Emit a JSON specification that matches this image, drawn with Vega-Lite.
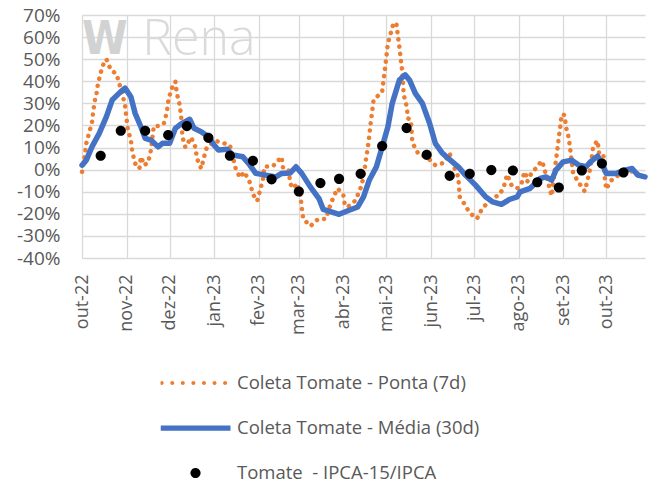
{
  "$schema": "https://vega.github.io/schema/vega-lite/v6.json",
  "width": 563,
  "height": 243,
  "autosize": "none",
  "padding": {"left": 82, "top": 15, "right": 7, "bottom": 229},
  "background": "white",
  "config": {"view": {"stroke": null}, "font": "Open Sans"},
  "data": {"values": [
    {"series":"p","date":"2022-10-01","value":-1},{"series":"p","date":"2022-10-03","value":6.6},{"series":"p","date":"2022-10-04","value":11.9},{"series":"p","date":"2022-10-06","value":16.7},{"series":"p","date":"2022-10-08","value":21.7},{"series":"p","date":"2022-10-09","value":27.3},{"series":"p","date":"2022-10-10","value":31.5},{"series":"p","date":"2022-10-11","value":33.8},{"series":"p","date":"2022-10-12","value":38.4},{"series":"p","date":"2022-10-14","value":43.9},{"series":"p","date":"2022-10-16","value":47.9},{"series":"p","date":"2022-10-18","value":50},{"series":"p","date":"2022-10-21","value":45.2},{"series":"p","date":"2022-10-25","value":43.3},{"series":"p","date":"2022-10-27","value":38.8},{"series":"p","date":"2022-10-29","value":34.6},{"series":"p","date":"2022-10-31","value":28.8},{"series":"p","date":"2022-11-01","value":23.2},{"series":"p","date":"2022-11-02","value":17.9},{"series":"p","date":"2022-11-04","value":13.4},{"series":"p","date":"2022-11-05","value":8.1},{"series":"p","date":"2022-11-07","value":2.8},{"series":"p","date":"2022-11-10","value":0.5},{"series":"p","date":"2022-11-11","value":5.8},{"series":"p","date":"2022-11-12","value":4.3},{"series":"p","date":"2022-11-13","value":2},{"series":"p","date":"2022-11-16","value":3.1},{"series":"p","date":"2022-11-18","value":8.9},{"series":"p","date":"2022-11-20","value":19.7},{"series":"p","date":"2022-11-24","value":19.7},{"series":"p","date":"2022-11-27","value":21},{"series":"p","date":"2022-11-29","value":25.8},{"series":"p","date":"2022-11-30","value":30.8},{"series":"p","date":"2022-12-02","value":36.1},{"series":"p","date":"2022-12-05","value":39.9},{"series":"p","date":"2022-12-06","value":34.6},{"series":"p","date":"2022-12-08","value":29.3},{"series":"p","date":"2022-12-09","value":24.3},{"series":"p","date":"2022-12-10","value":14.6},{"series":"p","date":"2022-12-12","value":10.1},{"series":"p","date":"2022-12-16","value":14.6},{"series":"p","date":"2022-12-19","value":10.1},{"series":"p","date":"2022-12-20","value":5.1},{"series":"p","date":"2022-12-23","value":0.5},{"series":"p","date":"2022-12-25","value":5.8},{"series":"p","date":"2022-12-27","value":10.3},{"series":"p","date":"2023-01-02","value":13.1},{"series":"p","date":"2023-01-12","value":11.1},{"series":"p","date":"2023-01-16","value":0.5},{"series":"p","date":"2023-01-19","value":-3.6},{"series":"p","date":"2023-01-22","value":-1},{"series":"p","date":"2023-01-26","value":-6},{"series":"p","date":"2023-01-28","value":-11.1},{"series":"p","date":"2023-01-31","value":-14.2},{"series":"p","date":"2023-02-02","value":-9.3},{"series":"p","date":"2023-02-04","value":-4.4},{"series":"p","date":"2023-02-05","value":1.3},{"series":"p","date":"2023-02-11","value":1.6},{"series":"p","date":"2023-02-17","value":5.8},{"series":"p","date":"2023-02-18","value":0.5},{"series":"p","date":"2023-02-22","value":-0.5},{"series":"p","date":"2023-02-23","value":-6.3},{"series":"p","date":"2023-02-25","value":-8.5},{"series":"p","date":"2023-02-28","value":-6.3},{"series":"p","date":"2023-03-02","value":-11.1},{"series":"p","date":"2023-03-03","value":-17.2},{"series":"p","date":"2023-03-04","value":-22.2},{"series":"p","date":"2023-03-09","value":-25.6},{"series":"p","date":"2023-03-14","value":-22.6},{"series":"p","date":"2023-03-20","value":-22.2},{"series":"p","date":"2023-03-22","value":-17.6},{"series":"p","date":"2023-03-25","value":-12.6},{"series":"p","date":"2023-03-28","value":-8.5},{"series":"p","date":"2023-04-01","value":-11.6},{"series":"p","date":"2023-04-02","value":-16.1},{"series":"p","date":"2023-04-04","value":-16.9},{"series":"p","date":"2023-04-09","value":-14.2},{"series":"p","date":"2023-04-12","value":-10.1},{"series":"p","date":"2023-04-14","value":-6.3},{"series":"p","date":"2023-04-15","value":-2.5},{"series":"p","date":"2023-04-16","value":1.3},{"series":"p","date":"2023-04-17","value":5.8},{"series":"p","date":"2023-04-18","value":10.1},{"series":"p","date":"2023-04-19","value":15.2},{"series":"p","date":"2023-04-20","value":21},{"series":"p","date":"2023-04-21","value":26.2},{"series":"p","date":"2023-04-22","value":31.5},{"series":"p","date":"2023-04-25","value":33.4},{"series":"p","date":"2023-04-28","value":35.3},{"series":"p","date":"2023-04-29","value":40.6},{"series":"p","date":"2023-04-30","value":45.9},{"series":"p","date":"2023-05-01","value":51.5},{"series":"p","date":"2023-05-02","value":57.3},{"series":"p","date":"2023-05-04","value":61.8},{"series":"p","date":"2023-05-06","value":66.6},{"series":"p","date":"2023-05-08","value":65.6},{"series":"p","date":"2023-05-09","value":60.3},{"series":"p","date":"2023-05-10","value":55.5},{"series":"p","date":"2023-05-11","value":49.7},{"series":"p","date":"2023-05-12","value":44.4},{"series":"p","date":"2023-05-13","value":33.8},{"series":"p","date":"2023-05-15","value":28.8},{"series":"p","date":"2023-05-16","value":23.2},{"series":"p","date":"2023-05-18","value":22.5},{"series":"p","date":"2023-05-19","value":12.2},{"series":"p","date":"2023-05-23","value":7.4},{"series":"p","date":"2023-05-30","value":5.1},{"series":"p","date":"2023-06-04","value":2},{"series":"p","date":"2023-06-10","value":3.1},{"series":"p","date":"2023-06-14","value":7.4},{"series":"p","date":"2023-06-17","value":1.3},{"series":"p","date":"2023-06-20","value":-3.3},{"series":"p","date":"2023-06-21","value":-12.3},{"series":"p","date":"2023-06-24","value":-15.3},{"series":"p","date":"2023-06-28","value":-19.6},{"series":"p","date":"2023-07-03","value":-22.2},{"series":"p","date":"2023-07-06","value":-18.4},{"series":"p","date":"2023-07-10","value":-15.1},{"series":"p","date":"2023-07-15","value":-12.6},{"series":"p","date":"2023-07-19","value":-11.3},{"series":"p","date":"2023-07-22","value":-7},{"series":"p","date":"2023-07-24","value":-2.2},{"series":"p","date":"2023-07-27","value":-7},{"series":"p","date":"2023-07-31","value":-8.5},{"series":"p","date":"2023-08-03","value":-6.3},{"series":"p","date":"2023-08-05","value":-1},{"series":"p","date":"2023-08-06","value":-2},{"series":"p","date":"2023-08-07","value":-5.5},{"series":"p","date":"2023-08-10","value":-1.5},{"series":"p","date":"2023-08-14","value":1.3},{"series":"p","date":"2023-08-17","value":4},{"series":"p","date":"2023-08-18","value":2.5},{"series":"p","date":"2023-08-22","value":-7},{"series":"p","date":"2023-08-24","value":-11.9},{"series":"p","date":"2023-08-27","value":4.3},{"series":"p","date":"2023-08-28","value":9.2},{"series":"p","date":"2023-08-29","value":14.6},{"series":"p","date":"2023-08-30","value":19.4},{"series":"p","date":"2023-08-31","value":25},{"series":"p","date":"2023-09-02","value":24.7},{"series":"p","date":"2023-09-03","value":19.2},{"series":"p","date":"2023-09-05","value":14.2},{"series":"p","date":"2023-09-06","value":8.9},{"series":"p","date":"2023-09-08","value":-1.7},{"series":"p","date":"2023-09-12","value":-6},{"series":"p","date":"2023-09-16","value":-9.8},{"series":"p","date":"2023-09-18","value":-4.8},{"series":"p","date":"2023-09-20","value":1},{"series":"p","date":"2023-09-22","value":10.7},{"series":"p","date":"2023-09-25","value":13.1},{"series":"p","date":"2023-09-26","value":7.4},{"series":"p","date":"2023-09-29","value":7},{"series":"p","date":"2023-09-30","value":-3.6},{"series":"p","date":"2023-10-01","value":-8.9},{"series":"p","date":"2023-10-04","value":-5.1},{"series":"p","date":"2023-10-09","value":-2.8},{"series":"p","date":"2023-10-14","value":-1.7},{"series":"p","date":"2023-10-20","value":-0.5},{"series":"p","date":"2023-10-27","value":-3.7},
    {"series":"m","date":"2022-10-01","value":2},{"series":"m","date":"2022-10-04","value":4.3},{"series":"m","date":"2022-10-08","value":10.4},{"series":"m","date":"2022-10-13","value":16.4},{"series":"m","date":"2022-10-18","value":24},{"series":"m","date":"2022-10-22","value":31.5},{"series":"m","date":"2022-10-28","value":35.3},{"series":"m","date":"2022-10-31","value":36.9},{"series":"m","date":"2022-11-04","value":33},{"series":"m","date":"2022-11-07","value":25.5},{"series":"m","date":"2022-11-11","value":19.4},{"series":"m","date":"2022-11-14","value":14.2},{"series":"m","date":"2022-11-18","value":13.4},{"series":"m","date":"2022-11-23","value":10.3},{"series":"m","date":"2022-11-26","value":11.9},{"series":"m","date":"2022-12-01","value":11.9},{"series":"m","date":"2022-12-05","value":18.7},{"series":"m","date":"2022-12-09","value":20.7},{"series":"m","date":"2022-12-15","value":22.8},{"series":"m","date":"2022-12-18","value":18.7},{"series":"m","date":"2022-12-23","value":17.2},{"series":"m","date":"2022-12-28","value":14.9},{"series":"m","date":"2023-01-01","value":11.1},{"series":"m","date":"2023-01-04","value":8.9},{"series":"m","date":"2023-01-10","value":9.2},{"series":"m","date":"2023-01-14","value":6.6},{"series":"m","date":"2023-01-21","value":5.8},{"series":"m","date":"2023-01-25","value":2.8},{"series":"m","date":"2023-01-30","value":-1.7},{"series":"m","date":"2023-02-06","value":-2.5},{"series":"m","date":"2023-02-13","value":-3.3},{"series":"m","date":"2023-02-17","value":-1.7},{"series":"m","date":"2023-02-23","value":-1.5},{"series":"m","date":"2023-02-27","value":1.3},{"series":"m","date":"2023-03-03","value":-1.7},{"series":"m","date":"2023-03-09","value":-7.8},{"series":"m","date":"2023-03-15","value":-13.1},{"series":"m","date":"2023-03-18","value":-18},{"series":"m","date":"2023-03-22","value":-18.8},{"series":"m","date":"2023-03-29","value":-20.2},{"series":"m","date":"2023-04-05","value":-18.4},{"series":"m","date":"2023-04-11","value":-16.9},{"series":"m","date":"2023-04-15","value":-12.3},{"series":"m","date":"2023-04-19","value":-4.8},{"series":"m","date":"2023-04-24","value":1.3},{"series":"m","date":"2023-04-28","value":10.3},{"series":"m","date":"2023-05-02","value":19.4},{"series":"m","date":"2023-05-05","value":30},{"series":"m","date":"2023-05-10","value":40.6},{"series":"m","date":"2023-05-14","value":42.9},{"series":"m","date":"2023-05-17","value":40.6},{"series":"m","date":"2023-05-21","value":34.6},{"series":"m","date":"2023-05-26","value":30},{"series":"m","date":"2023-05-31","value":21},{"series":"m","date":"2023-06-04","value":11.9},{"series":"m","date":"2023-06-09","value":7.4},{"series":"m","date":"2023-06-13","value":5.1},{"series":"m","date":"2023-06-20","value":1.3},{"series":"m","date":"2023-06-25","value":-2.5},{"series":"m","date":"2023-07-02","value":-7},{"series":"m","date":"2023-07-09","value":-12.3},{"series":"m","date":"2023-07-14","value":-14.6},{"series":"m","date":"2023-07-20","value":-15.7},{"series":"m","date":"2023-07-26","value":-13.4},{"series":"m","date":"2023-07-31","value":-12.3},{"series":"m","date":"2023-08-02","value":-10.1},{"series":"m","date":"2023-08-09","value":-8.5},{"series":"m","date":"2023-08-16","value":-4},{"series":"m","date":"2023-08-20","value":-3.3},{"series":"m","date":"2023-08-24","value":-4.8},{"series":"m","date":"2023-08-27","value":-0.2},{"series":"m","date":"2023-09-01","value":3.5},{"series":"m","date":"2023-09-07","value":4.3},{"series":"m","date":"2023-09-12","value":2},{"series":"m","date":"2023-09-17","value":1.3},{"series":"m","date":"2023-09-20","value":3.5},{"series":"m","date":"2023-09-25","value":6.1},{"series":"m","date":"2023-09-28","value":2.8},{"series":"m","date":"2023-10-01","value":-1.7},{"series":"m","date":"2023-10-08","value":-1.7},{"series":"m","date":"2023-10-14","value":-0.2},{"series":"m","date":"2023-10-19","value":0.5},{"series":"m","date":"2023-10-23","value":-2.5},{"series":"m","date":"2023-10-28","value":-3.3},
    {"series":"i","date":"2022-10-14","value":6.3},{"series":"i","date":"2022-10-28","value":17.6},{"series":"i","date":"2022-11-14","value":17.6},{"series":"i","date":"2022-11-30","value":15.7},{"series":"i","date":"2022-12-13","value":19.7},{"series":"i","date":"2022-12-28","value":14.4},{"series":"i","date":"2023-01-12","value":6.3},{"series":"i","date":"2023-01-28","value":4},{"series":"i","date":"2023-02-10","value":-4.4},{"series":"i","date":"2023-03-01","value":-9.9},{"series":"i","date":"2023-03-16","value":-6.1},{"series":"i","date":"2023-03-29","value":-4.2},{"series":"i","date":"2023-04-13","value":-1.9},{"series":"i","date":"2023-04-28","value":10.7},{"series":"i","date":"2023-05-15","value":18.8},{"series":"i","date":"2023-05-29","value":6.7},{"series":"i","date":"2023-06-14","value":-2.8},{"series":"i","date":"2023-06-28","value":-1.9},{"series":"i","date":"2023-07-13","value":-0.2},{"series":"i","date":"2023-07-28","value":-0.4},{"series":"i","date":"2023-08-14","value":-5.7},{"series":"i","date":"2023-08-29","value":-8.1},{"series":"i","date":"2023-09-14","value":-0.4},{"series":"i","date":"2023-09-28","value":2.8},{"series":"i","date":"2023-10-13","value":-1.3}
  ]},
  "encoding": {
    "x": {
      "field": "date", "type": "temporal",
      "scale": {"type": "utc", "domain": [{"year": 2022, "month": 10, "date": 1, "utc": true}, {"year": 2023, "month": 10, "date": 28, "utc": true}]},
      "axis": {
        "title": null, "grid": true, "gridColor": "#d9d9d9", "gridWidth": 1.3, "domain": false, "ticks": false,
        "tickCount": {"interval": "month", "step": 1},
        "labelAngle": 270, "labelFontSize": 18, "labelColor": "#595959", "labelFont": "Open Sans", "labelPadding": 16,
        "labelOverlap": false, "labelFlush": false, "labelBound": false,
        "labelExpr": "['jan','fev','mar','abr','mai','jun','jul','ago','set','out','nov','dez'][utcmonth(datum.value)] + '-' + utcFormat(datum.value, '%y')"
      }
    },
    "y": {
      "field": "value", "type": "quantitative",
      "scale": {"domain": [-40, 70], "nice": false, "zero": false},
      "axis": {
        "title": null, "values": [-40, -30, -20, -10, 0, 10, 20, 30, 40, 50, 60, 70],
        "grid": true, "gridColor": "#d9d9d9", "gridWidth": 1.3, "domain": false, "ticks": false,
        "labelFontSize": 19, "labelColor": "#595959", "labelFont": "Open Sans", "labelPadding": 22,
        "labelExpr": "datum.value + '%'"
      }
    }
  },
  "layer": [
    {
      "transform": [{"filter": "datum.series == 'i' && datum.value == 19.7"}],
      "mark": {"type": "text", "font": "Open Sans", "fontWeight": 300, "fontSize": 50, "fill": "#dadada", "align": "left", "baseline": "alphabetic"},
      "encoding": {
        "x": {"datum": {"year": 2022, "month": 11, "date": 12, "utc": true}, "type": "temporal"},
        "y": {"datum": 52, "type": "quantitative"},
        "text": {"value": "Rena"}
      }
    },
    {
      "transform": [{"filter": "datum.series == 'i' && datum.value == 19.7"}],
      "mark": {"type": "text", "font": "DejaVu Sans Condensed", "fontWeight": "bold", "fontSize": 46, "fill": "#d2d2d2", "align": "left", "baseline": "alphabetic"},
      "encoding": {
        "x": {"datum": {"year": 2022, "month": 10, "date": 1, "utc": true}, "type": "temporal"},
        "y": {"datum": 52.5, "type": "quantitative"},
        "text": {"value": "W"}
      }
    },
    {
      "transform": [{"filter": "datum.series == 'p'"}],
      "mark": {"type": "line", "strokeWidth": 4.5, "strokeDash": [0.1, 7.2], "strokeCap": "round", "strokeJoin": "round"},
      "encoding": {
        "color": {
          "field": "series", "type": "nominal",
          "scale": {"domain": ["p", "m", "i"], "range": ["#ED7D31", "#4472C4", "#000000"]},
          "legend": {
            "orient": "none", "legendX": 78.5, "legendY": 356, "title": null, "direction": "vertical", "padding": 0,
            "labelFontSize": 18.5, "labelColor": "#595959", "labelFont": "Open Sans", "labelOffset": 6.5, "labelLimit": 600,
            "symbolSize": 4900, "clipHeight": 24, "rowPadding": 21,
            "labelExpr": "datum.label == 'p' ? 'Coleta Tomate - Ponta (7d)' : datum.label == 'm' ? 'Coleta Tomate - Média (30d)' : 'Tomate \u00a0- IPCA-15/IPCA'",
            "encode": {"symbols": {"update": {
              "fill": {"scale": "color", "field": "value"},
              "shape": {"scale": "shape", "field": "value"},
              "stroke": {"value": "transparent"}, "strokeWidth": {"value": 0},
              "size": {"value": 4900}, "opacity": {"value": 1}, "strokeDash": {"value": []}
            }}}
          }
        }
      }
    },
    {
      "transform": [{"filter": "datum.series == 'm'"}],
      "mark": {"type": "line", "strokeWidth": 5.5, "strokeCap": "round", "strokeJoin": "round"},
      "encoding": {
        "color": {"field": "series", "type": "nominal"}
      }
    },
    {
      "transform": [{"filter": "datum.series == 'i'"}],
      "mark": {"type": "point", "filled": true, "size": 4900, "opacity": 1, "strokeWidth": 0},
      "encoding": {
        "color": {"field": "series", "type": "nominal"},
        "shape": {
          "field": "series", "type": "nominal",
          "scale": {"domain": ["p", "m", "i"], "range": [
            "M -1.023 0 a 0.057 0.057 0 1 0 0.114 0 a 0.057 0.057 0 1 0 -0.114 0 M -0.721 0 a 0.057 0.057 0 1 0 0.114 0 a 0.057 0.057 0 1 0 -0.114 0 M -0.419 0 a 0.057 0.057 0 1 0 0.114 0 a 0.057 0.057 0 1 0 -0.114 0 M -0.117 0 a 0.057 0.057 0 1 0 0.114 0 a 0.057 0.057 0 1 0 -0.114 0 M 0.185 0 a 0.057 0.057 0 1 0 0.114 0 a 0.057 0.057 0 1 0 -0.114 0 M 0.487 0 a 0.057 0.057 0 1 0 0.114 0 a 0.057 0.057 0 1 0 -0.114 0 M 0.789 0 a 0.057 0.057 0 1 0 0.114 0 a 0.057 0.057 0 1 0 -0.114 0",
            "M -1 -0.075 L 1 -0.075 L 1 0.075 L -1 0.075 Z",
            "M -0.145 0 a 0.145 0.145 0 1 0 0.29 0 a 0.145 0.145 0 1 0 -0.29 0"
          ]},
          "legend": {
            "orient": "none", "legendX": 78.5, "legendY": 356, "title": null, "direction": "vertical", "padding": 0,
            "labelFontSize": 18.5, "labelColor": "#595959", "labelFont": "Open Sans", "labelOffset": 6.5, "labelLimit": 600,
            "symbolSize": 4900, "clipHeight": 24, "rowPadding": 21,
            "labelExpr": "datum.label == 'p' ? 'Coleta Tomate - Ponta (7d)' : datum.label == 'm' ? 'Coleta Tomate - Média (30d)' : 'Tomate \u00a0- IPCA-15/IPCA'",
            "encode": {"symbols": {"update": {
              "fill": {"scale": "color", "field": "value"},
              "shape": {"scale": "shape", "field": "value"},
              "stroke": {"value": "transparent"}, "strokeWidth": {"value": 0},
              "size": {"value": 4900}, "opacity": {"value": 1}, "strokeDash": {"value": []}
            }}}
          }
        }
      }
    }
  ]
}
